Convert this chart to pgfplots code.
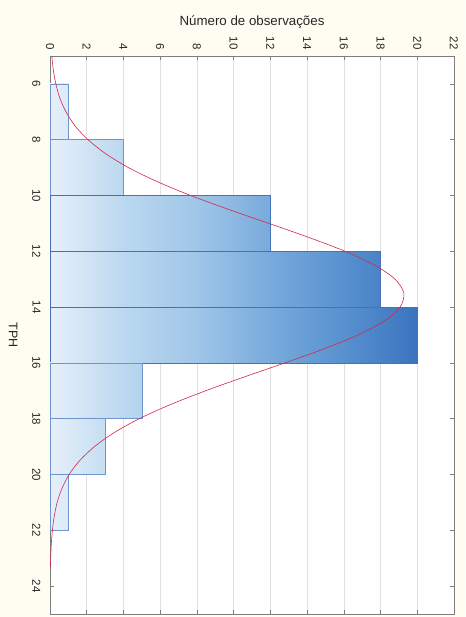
\documentclass[border=0pt]{standalone}
\usepackage{pgfplots}
\pgfplotsset{compat=1.18}
\usepackage{fontspec}
\setmainfont{Liberation Sans}
\definecolor{cream}{RGB}{255,253,242}
\definecolor{cA}{RGB}{230,240,250}
\definecolor{cB}{RGB}{187,216,240}
\definecolor{cC}{RGB}{160,198,232}
\definecolor{cD}{RGB}{120,170,220}
\definecolor{cE}{RGB}{88,145,208}
\definecolor{cF}{RGB}{58,116,190}
\definecolor{c1}{RGB}{219,234,248}
\definecolor{c3}{RGB}{198,222,242}
\definecolor{c5}{RGB}{180,211,238}
\definecolor{c18}{RGB}{73,130,199}
\definecolor{barE}{RGB}{70,112,184}
\definecolor{barEl}{RGB}{110,150,205}
\definecolor{curve}{RGB}{212,40,72}
\definecolor{axgray}{RGB}{125,125,125}
\definecolor{gridgray}{RGB}{224,224,224}
\pgfdeclarehorizontalshading{sh1}{100bp}{color(0bp)=(cA); color(25bp)=(cA); color(75bp)=(c1); color(100bp)=(c1)}
\pgfdeclarehorizontalshading{sh3}{100bp}{color(0bp)=(cA); color(25bp)=(cA); color(75bp)=(c3); color(100bp)=(c3)}
\pgfdeclarehorizontalshading{sh4}{100bp}{color(0bp)=(cA); color(25bp)=(cA); color(75bp)=(cB); color(100bp)=(cB)}
\pgfdeclarehorizontalshading{sh5}{100bp}{color(0bp)=(cA); color(25bp)=(cA); color(65bp)=(cB); color(75bp)=(c5); color(100bp)=(c5)}
\pgfdeclarehorizontalshading{sh12}{100bp}{color(0bp)=(cA); color(25bp)=(cA); color(41.667bp)=(cB); color(58.333bp)=(cC); color(75bp)=(cD); color(100bp)=(cD)}
\pgfdeclarehorizontalshading{sh18}{100bp}{color(0bp)=(cA); color(25bp)=(cA); color(36.111bp)=(cB); color(47.222bp)=(cC); color(58.333bp)=(cD); color(69.444bp)=(cE); color(75bp)=(c18); color(100bp)=(c18)}
\pgfdeclarehorizontalshading{sh20}{100bp}{color(0bp)=(cA); color(25bp)=(cA); color(35bp)=(cB); color(45bp)=(cC); color(55bp)=(cD); color(65bp)=(cE); color(75bp)=(cF); color(100bp)=(cF)}
\pagecolor{cream}
\begin{document}
\begin{tikzpicture}
\useasboundingbox (-50pt,-3pt) rectangle (415pt,614pt);
\begin{axis}[
  at={(0,0)}, anchor=south west,
  scale only axis, width=404pt, height=558pt,
  xmin=0, xmax=22, ymin=5, ymax=25, y dir=reverse,
  xtick={0,2,...,22}, ytick={6,8,...,24},
  xticklabel pos=right,
  axis background/.style={fill=white},
  tick align=inside, major tick length=4pt,
  axis line style={axgray, line width=0.8pt},
  tick style={axgray, line width=0.6pt},
  xmajorgrids, grid style={gridgray, line width=0.6pt},
  /pgf/number format/assume math mode=true,
  ticklabel style={font=\fontsize{11.5}{13}\selectfont, text=black!85},
  xticklabel style={rotate=-90, anchor=east},
  yticklabel style={rotate=-90, anchor=north},
  xticklabel shift=3pt,
  yticklabel shift=6pt,
  title={Número de observações},
  title style={font=\fontsize{13.3}{15}\selectfont, text=black!85, yshift=18pt},
  ylabel={TPH},
  ylabel shift=8pt,
  ylabel style={rotate=180, font=\fontsize{12.5}{14}\selectfont, text=black!85},
]
\addplot[draw=barEl, line width=0.6pt, shading=sh1] coordinates {(0,6) (1,6) (1,8) (0,8) (0,6)};
\addplot[draw=barEl, line width=0.6pt, shading=sh4] coordinates {(0,8) (4,8) (4,10) (0,10) (0,8)};
\addplot[draw=barE, line width=0.6pt, shading=sh12] coordinates {(0,10) (12,10) (12,12) (0,12) (0,10)};
\addplot[draw=barE, line width=0.6pt, shading=sh18] coordinates {(0,12) (18,12) (18,14) (0,14) (0,12)};
\addplot[draw=barE, line width=0.6pt, shading=sh20] coordinates {(0,14) (20,14) (20,16) (0,16) (0,14)};
\addplot[draw=barEl, line width=0.6pt, shading=sh5] coordinates {(0,16) (5,16) (5,18) (0,18) (0,16)};
\addplot[draw=barEl, line width=0.6pt, shading=sh3] coordinates {(0,18) (3,18) (3,20) (0,20) (0,18)};
\addplot[draw=barEl, line width=0.6pt, shading=sh1] coordinates {(0,20) (1,20) (1,22) (0,22) (0,20)};
\addplot[curve, line width=0.6pt, smooth] coordinates {
(0.10,5) (0.18,5.5) (0.32,6) (0.53,6.5) (0.87,7) (1.36,7.5) (2.07,8) (3.03,8.5)
(4.27,9) (5.83,9.5) (7.66,10) (9.73,10.5) (11.92,11) (14.08,11.5) (16.07,12)
(17.69,12.5) (18.79,13) (19.27,13.5) (19.06,14) (18.20,14.5)
(16.77,15) (14.91,15.5) (12.79,16) (10.59,16.5) (8.47,17) (6.53,17.5) (4.86,18)
(3.49,18.5) (2.42,19) (1.62,19.5) (1.04,20) (0.65,20.5) (0.39,21) (0.23,21.5)
(0.13,22) (0.07,22.5) (0.036,23) (0.025,23.3)};
\end{axis}
\end{tikzpicture}
\end{document}
